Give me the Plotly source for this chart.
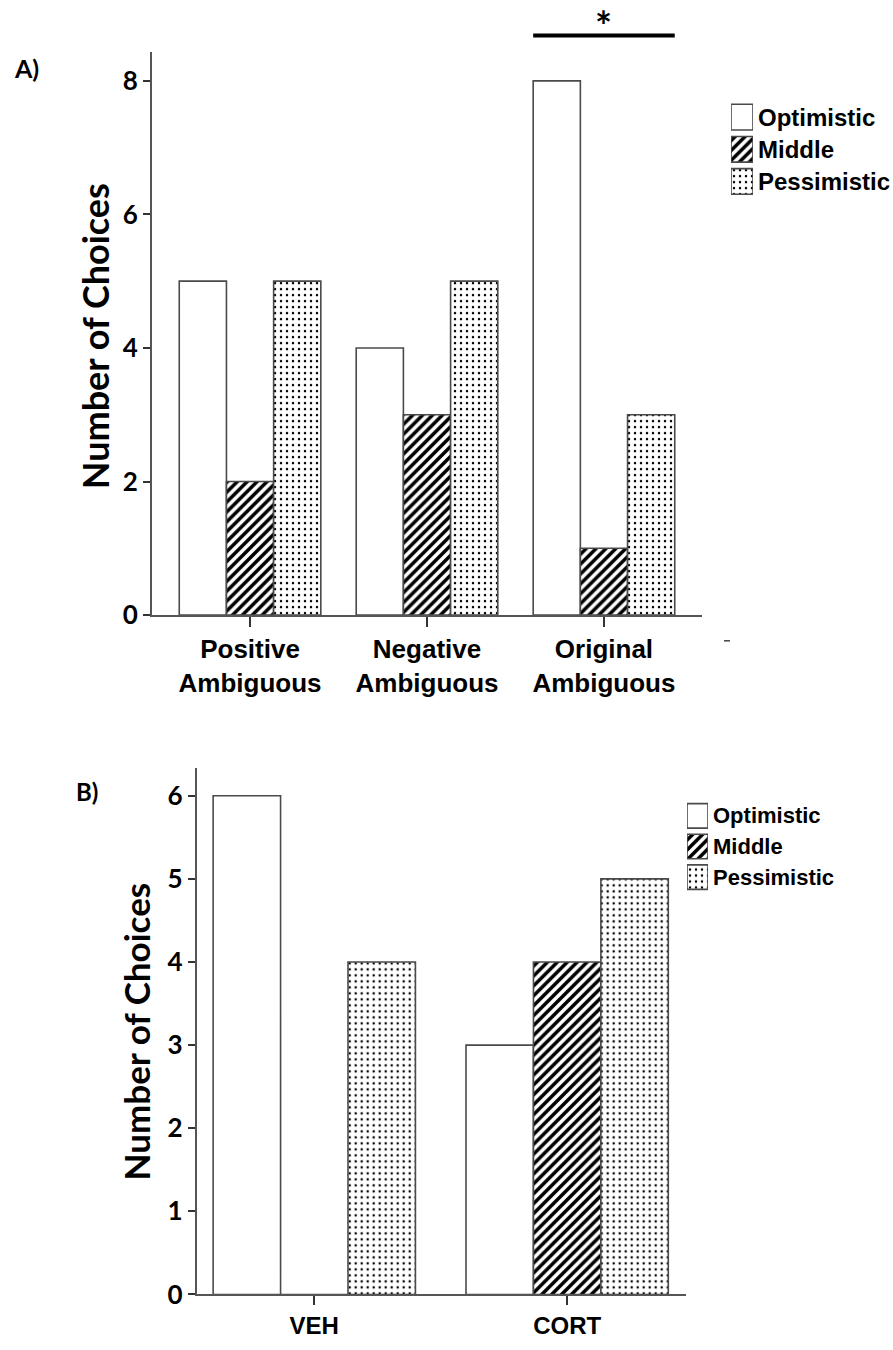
import plotly.graph_objects as go

# ---- data ----
groups_a = ["Positive<br>Ambiguous", "Negative<br>Ambiguous", "Original<br>Ambiguous"]
optimistic_a = [5, 4, 8]
middle_a = [2, 3, 1]
pessimistic_a = [5, 5, 3]

groups_b = ["VEH", "CORT"]
optimistic_b = [6, 3]
middle_b = [0, 4]
pessimistic_b = [4, 5]

series_names = ["Optimistic", "Middle", "Pessimistic"]

W, H = 893, 1350


def px_x(v):
    return v / W


def px_y(v):
    return 1 - v / H


OUTLINE = "#4a4a4a"
STRIPE = dict(shape="/", fgcolor="black", bgcolor="white", size=7, solidity=0.5, fillmode="replace")
DOTS = dict(shape=".", fgcolor="black", bgcolor="white", size=6, solidity=0.14, fillmode="replace")
styles = {
    "Optimistic": dict(shape=""),
    "Middle": STRIPE,
    "Pessimistic": DOTS,
}

fig = go.Figure()

# ---- panel A bars ----
for name, vals in zip(series_names, [optimistic_a, middle_a, pessimistic_a]):
    fig.add_trace(go.Bar(
        x=groups_a, y=vals, name=name, xaxis="x", yaxis="y", showlegend=False,
        marker=dict(color="white", pattern=styles[name],
                    line=dict(color=OUTLINE, width=1.6)),
    ))

# ---- panel B bars ----
for name, vals in zip(series_names, [optimistic_b, middle_b, pessimistic_b]):
    fig.add_trace(go.Bar(
        x=groups_b, y=vals, name=name, xaxis="x2", yaxis="y2", showlegend=False,
        marker=dict(color="white", pattern=styles[name],
                    line=dict(color=OUTLINE, width=1.6)),
    ))

# ---- legend swatches (one small bar axis per panel) ----
for xa, ya in [("x3", "y3"), ("x4", "y4")]:
    fig.add_trace(go.Bar(
        y=series_names, x=[1, 1, 1], orientation="h", xaxis=xa, yaxis=ya, showlegend=False,
        marker=dict(color="white",
                    pattern=dict(shape=["", "/", "."], fgcolor="black", bgcolor="white",
                                 size=[7, 7, 6], solidity=[0.5, 0.5, 0.14], fillmode="replace"),
                    line=dict(color=OUTLINE, width=1.6)),
        hoverinfo="skip",
    ))

tick_font = dict(family="Lato", size=26, color="black", weight="bold")
cat_font_a = dict(family="Liberation Sans", size=26, color="black", weight="bold")
cat_font_b = dict(family="Liberation Sans", size=24, color="black", weight="bold")

axis_common = dict(showline=True, linecolor="#555555", linewidth=2, showgrid=False,
                   zeroline=False, ticks="outside", tickcolor="#333333", tickwidth=2)

hidden = dict(visible=False, showgrid=False, zeroline=False, fixedrange=True)

fig.update_layout(
    width=W, height=H,
    margin=dict(l=0, r=0, t=0, b=0),
    paper_bgcolor="white", plot_bgcolor="white",
    barmode="group", bargap=0.2, bargroupgap=0,
    xaxis=dict(domain=[px_x(152), px_x(702)], anchor="y", range=[-0.554, 2.554],
               type="category", ticklen=10, tickfont=cat_font_a, **axis_common),
    yaxis=dict(domain=[px_y(622), px_y(52.7)], anchor="x", range=[0, 8.43],
               tickvals=[0, 2, 4, 6, 8], ticklen=7, tickfont=tick_font, **axis_common),
    xaxis2=dict(domain=[px_x(196.7), px_x(686)], anchor="y2", range=[-0.465, 1.47],
                type="category", ticklen=9, tickfont=cat_font_b, **axis_common),
    yaxis2=dict(domain=[px_y(1309), px_y(777)], anchor="x2", range=[0, 6.33],
                tickvals=[0, 1, 2, 3, 4, 5, 6], ticklen=7, tickfont=tick_font, **axis_common),
    xaxis3=dict(domain=[px_x(731), px_x(753)], anchor="y3", range=[0, 1], **hidden),
    yaxis3=dict(domain=[px_y(199.75), px_y(102.25)], anchor="x3", range=[2.5, -0.5],
                type="category", **hidden),
    xaxis4=dict(domain=[px_x(687), px_x(708)], anchor="y4", range=[0, 1], **hidden),
    yaxis4=dict(domain=[px_y(902.5), px_y(809.5)], anchor="x4", range=[2.5, -0.5],
                type="category", **hidden),
)

annotations = []
# panel letters
annotations.append(dict(x=px_x(12), y=px_y(69), xref="paper", yref="paper", text="A)",
                        showarrow=False, xanchor="left", yanchor="middle",
                        font=dict(family="Lato", size=25, color="black", weight="bold")))
annotations.append(dict(x=px_x(74), y=px_y(800), xref="paper", yref="paper", text="B)",
                        showarrow=False, xanchor="left", yanchor="middle",
                        font=dict(family="Lato", size=24, color="black", weight="bold")))
# y-axis titles
annotations.append(dict(x=px_x(95), y=px_y(340), xref="paper", yref="paper",
                        text="Number of Choices", textangle=-90, showarrow=False,
                        xanchor="center", yanchor="middle",
                        font=dict(family="Lato", size=36, color="black", weight="bold")))
annotations.append(dict(x=px_x(136), y=px_y(1043), xref="paper", yref="paper",
                        text="Number of Choices", textangle=-90, showarrow=False,
                        xanchor="center", yanchor="middle",
                        font=dict(family="Lato", size=35, color="black", weight="bold")))
# legend labels
for i, n in enumerate(series_names):
    annotations.append(dict(x=px_x(756), y=px_y(118.5 + 32.5 * i), xref="paper", yref="paper",
                            text=n, showarrow=False, xanchor="left", yanchor="middle",
                            font=dict(family="Liberation Sans", size=24, color="black",
                                      weight="bold")))
    annotations.append(dict(x=px_x(711), y=px_y(825 + 31 * i), xref="paper", yref="paper",
                            text=n, showarrow=False, xanchor="left", yanchor="middle",
                            font=dict(family="Liberation Sans", size=22, color="black",
                                      weight="bold")))
# significance marker over the Original Ambiguous group
annotations.append(dict(x=2, y=1.0, xref="x", yref="paper", text="*",
                        showarrow=False, xanchor="center", yanchor="top",
                        font=dict(family="Lato", size=40, color="black", weight="bold")))
fig.update_layout(annotations=annotations)

shapes = [
    dict(type="line", xref="x", yref="paper", x0=1.6, x1=2.4, y0=px_y(36), y1=px_y(36),
         line=dict(color="black", width=4)),
    dict(type="line", xref="paper", yref="paper", x0=px_x(724), x1=px_x(730),
         y0=px_y(648), y1=px_y(648), line=dict(color="#444444", width=1.5)),
]
fig.update_layout(shapes=shapes)

fig.write_html("out.html")
